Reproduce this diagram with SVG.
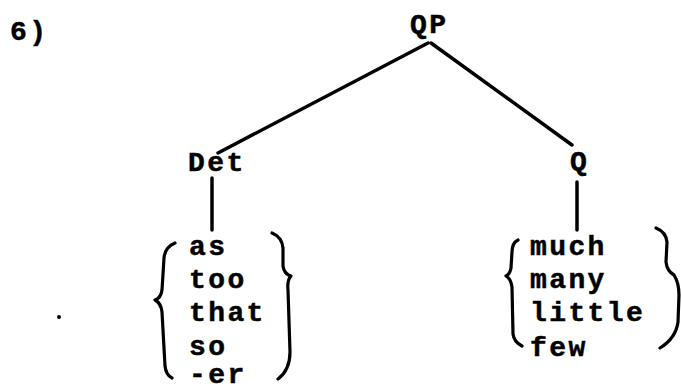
<svg xmlns="http://www.w3.org/2000/svg" width="681" height="388" viewBox="0 0 681 388">
<style>
text{font-family:"Liberation Mono","DejaVu Sans Mono",monospace;font-weight:bold;font-size:28px;letter-spacing:2.4px;fill:#000;stroke:#000;stroke-width:0.5}
.edge{stroke:#000;stroke-width:3.5;stroke-linecap:round;fill:none}
.brace{stroke:#000;stroke-width:3.2;stroke-linecap:round;stroke-linejoin:round;fill:none}
</style>
<rect width="681" height="388" fill="#fff"/>
<text x="10" y="40">6)</text>
<g id="connectors">
<line class="edge" x1="428" y1="43" x2="218" y2="153" stroke-width="4.2"/>
<line class="edge" x1="431" y1="43" x2="572" y2="145"/>
<line class="edge" x1="212" y1="178" x2="212" y2="230" stroke-width="3"/>
<line class="edge" x1="577" y1="182" x2="577" y2="230" stroke-width="3"/>
</g>
<g id="QP"><text x="410" y="33">QP</text></g>
<g id="Det"><text x="188" y="171">Det</text></g>
<g id="Q"><text x="570" y="170">Q</text></g>
<g id="det-items">
<path class="brace" d="M175,243 Q165,247 164,258 L162,290 Q161,298 155,300 Q161,303 162,312 L165,366 Q166,375 172,378"/>
<path class="brace" d="M272,233 Q282,237 283,248 L283,266 Q284,274 291,276 Q287,280 288,290 L290,352 Q290,370 278,379"/>
<text x="189" y="255">as</text>
<text x="189" y="288">too</text>
<text x="189" y="321">that</text>
<text x="189" y="355">so</text>
<text x="189" y="383">-er</text>
</g>
<g id="Q-items">
<path class="brace" d="M518,240 Q512,243 512,252 L511,268 Q510,274 506,276 Q511,279 512,287 L513,334 Q514,342 522,346"/>
<path class="brace" d="M656,228 Q666,232 667,242 L666,262 Q667,271 674,275 Q679,283 679,295 L678,322 Q676,338 660,348"/>
<text x="530" y="255">much</text>
<text x="530" y="288">many</text>
<text x="530" y="321">little</text>
<text x="530" y="356">few</text>
</g>
<circle cx="59" cy="317" r="2" fill="#000"/>
</svg>
